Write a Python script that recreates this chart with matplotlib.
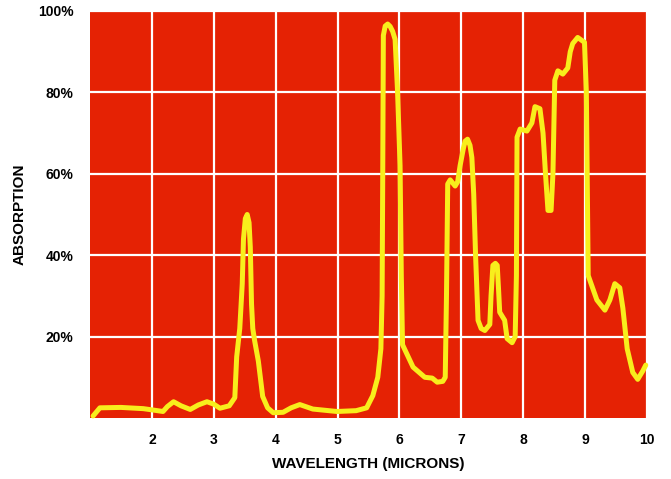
import matplotlib
matplotlib.use("Agg")
import matplotlib.pyplot as plt

wavelength = [1.05, 1.16, 1.5, 1.86, 2.0, 2.18, 2.25, 2.35, 2.47, 2.62, 2.75, 2.89, 3.0, 3.10,
              3.25, 3.34, 3.37, 3.42, 3.46, 3.48, 3.51, 3.54, 3.57, 3.59, 3.61, 3.63, 3.66, 3.72,
              3.79, 3.87, 3.96,
              4.12, 4.25, 4.39, 4.60, 4.99, 5.3, 5.47, 5.57, 5.65, 5.70, 5.72, 5.73, 5.74, 5.77,
              5.81, 5.85, 5.89, 5.93, 5.97, 6.01, 6.03, 6.05, 6.22, 6.41, 6.53, 6.61, 6.70, 6.74,
              6.76, 6.78, 6.82, 6.90, 6.94, 6.98, 7.03, 7.06, 7.10, 7.14, 7.17, 7.20, 7.23, 7.27,
              7.32, 7.38, 7.46, 7.48, 7.51, 7.55, 7.58, 7.60, 7.62, 7.70, 7.74, 7.82, 7.87, 7.89,
              7.90, 7.95, 8.06, 8.14, 8.19, 8.27, 8.32, 8.36, 8.40, 8.45, 8.48, 8.51, 8.56, 8.64,
              8.72, 8.76, 8.80, 8.88, 8.99, 9.02, 9.05, 9.19, 9.32, 9.40, 9.48, 9.56, 9.61, 9.68,
              9.77, 9.85, 9.93, 9.98]
absorption = [0.5, 2.5, 2.6, 2.3, 2.0, 1.6, 2.8, 4.0, 3.0, 2.1, 3.2, 4.0, 3.4, 2.4,
              3.0, 5.0, 15, 22, 33, 44, 49, 50, 48, 42, 28, 22, 19, 14,
              5.3, 2.5, 1.3,
              1.4, 2.5, 3.3, 2.2, 1.6, 1.8, 2.5, 5.5, 10, 17, 30, 60, 94, 96.3,
              96.8, 96.2, 95, 93, 80, 62, 35, 18, 12.5, 10, 9.8, 8.8, 9.0, 10,
              30, 57.5, 58.5, 57, 58, 62, 66, 68, 68.5, 67, 64, 55, 40, 24,
              22, 21.5, 23, 30, 37.5, 38, 37.5, 32, 26, 24, 19.5, 18.5, 20, 35,
              69, 71, 70.5, 72.5, 76.5, 76, 70, 60, 51, 51, 60, 83, 85.3, 84.5,
              86, 90, 92, 93.5, 92.3, 80, 35, 29, 26.5, 29, 33, 32, 27, 17,
              11.2, 9.5, 11.5, 13]

x_ticks = [2, 3, 4, 5, 6, 7, 8, 9, 10]
y_ticks = [20, 40, 60, 80, 100]
y_tick_labels = ["20%", "40%", "60%", "80%", "100%"]

plt.rcParams['font.family'] = ['Liberation Sans', 'DejaVu Sans']

fig = plt.figure(figsize=(6.71, 4.79), dpi=100)
ax = fig.add_axes([90/671, 1 - 418/479, 557/671, 407/479])
ax.set_facecolor('#e52204')
ax.plot(wavelength, absorption, color='#f8ee1c', lw=3.6, solid_joinstyle='round',
        solid_capstyle='round', zorder=3, clip_on=False)
ax.set_xlim(1, 10)
ax.set_ylim(0, 100)
ax.set_xticks(x_ticks)
ax.set_xticklabels([str(t) for t in x_ticks], fontsize=10, fontweight='bold')
ax.set_yticks(y_ticks)
ax.set_yticklabels(y_tick_labels, fontsize=10, fontweight='bold')
ax.tick_params(length=0)
ax.tick_params(axis='y', pad=12)
ax.tick_params(axis='x', pad=11)
ax.grid(True, color='white', lw=1.6, zorder=1)
ax.set_axisbelow(True)
for s in ax.spines.values():
    s.set_visible(False)
ax.set_xlabel('WAVELENGTH (MICRONS)', fontsize=11, fontweight='bold', labelpad=7)
ax.set_ylabel('ABSORPTION', fontsize=11, fontweight='bold', labelpad=8)
fig.savefig('out.png', dpi=100)
